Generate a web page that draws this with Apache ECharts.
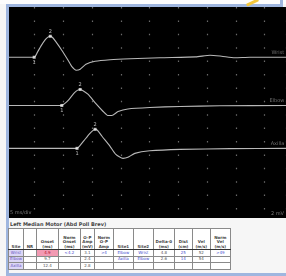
<!DOCTYPE html>
<html><head><meta charset="utf-8">
<script src="https://cdn.jsdelivr.net/npm/echarts@6/dist/echarts.min.js"></script>
<style>
html,body{margin:0;padding:0;width:286px;height:276px;overflow:hidden;background:#f6f6f6;font-family:"DejaVu Sans",Arial,sans-serif;}
#top{position:absolute;left:0;top:0;width:286px;height:4px;background:#fdfdfd;}
#chart{position:absolute;left:6px;top:7px;width:280px;height:211px;background:#000;}
.b{position:absolute;background:#9fb6df;}
#yel{position:absolute;left:246px;top:1px;width:13px;height:3px;background:#f3c73c;transform:rotate(-25deg);border-radius:1px;}
#title{position:absolute;left:10px;top:221px;font-size:5px;line-height:6px;color:#444;font-weight:bold;white-space:nowrap;}
#tbl{position:absolute;left:8px;top:228px;border-collapse:collapse;table-layout:fixed;font-size:4px;line-height:4.5px;background:#fff;}
#tbl td,#tbl th{border:1px solid #8a8a8a;padding:0 1px;overflow:hidden;white-space:nowrap;text-align:center;}
#tbl th{height:20px;vertical-align:bottom;font-weight:bold;color:#444;border-bottom:1.5px solid #333;}
#tbl td{height:5.5px;color:#555;}
</style></head>
<body>
<div id="top"></div>
<div id="chart"></div>
<div class="b" style="left:6px;top:4px;width:277px;height:3px;"></div>
<div class="b" style="left:280px;top:0px;width:3px;height:6px;"></div>
<div class="b" style="left:6px;top:4px;width:3px;height:272px;"></div>
<div class="b" style="left:6px;top:273px;width:280px;height:3px;"></div>
<div id="yel"></div>
<div id="title">Left Median Motor (Abd Poll Brev)</div>
<table id="tbl"></table>
<script>
// ---- waveform data (time in ms, amplitude in mV) ----
const traceNames = ["Wrist", "Elbow", "Axilla"];
const displayOffsets = [24, 16.8, 10.4];
const t1 = [0, 4.9, 5.5, 6.1, 6.8, 7.3, 7.7, 8.1, 8.6, 9.7, 10.8, 11.5, 12.2, 12.9, 13.9, 15.5, 18.1, 21.6, 26.8, 33.0, 35.5, 37.5, 39.8, 42.4, 48.7];
const a1 = [0, 0, 0.8, 1.7, 2.6, 3.0, 3.13, 2.95, 2.4, 1.05, -0.45, -1.45, -1.94, -1.8, -1.05, -0.6, -0.37, -0.22, -0.07, 0.05, 0.3, 0.15, -0.07, 0, 0];
const t2 = [0, 9.7, 10.3, 10.9, 11.8, 12.4, 12.9, 13.4, 14.3, 15.6, 16.9, 17.7, 18.4, 19.5, 21.2, 25, 30.3, 37.2, 48.7];
const a2 = [0, 0, 0.35, 0.85, 1.8, 2.25, 2.39, 2.2, 1.64, 0.3, -0.9, -1.5, -1.5, -0.9, -0.52, -0.3, -0.15, -0.05, 0];
const t3 = [0, 12.35, 12.9, 13.6, 14.6, 15.1, 15.5, 15.9, 16.7, 18.1, 19.1, 20.35, 21.2, 22.4, 25, 30.3, 39, 48.7];
const a3 = [0, 0, 0.45, 1.2, 2.24, 2.65, 2.84, 2.7, 1.8, 0.3, -0.9, -1.5, -1.34, -0.75, -0.37, -0.15, -0.05, 0];
const onsetIndex = [1, 1, 1];
const peakIndex = [6, 6, 6];
const labelTime = 48.4;

// ---- table data ----
const headers = ["Site", "NR", "Onset<br>(ms)", "Norm<br>Onset<br>(ms)", "O-P<br>Amp<br>(mV)", "Norm<br>O-P<br>Amp", "Site1", "Site2", "Delta-0<br>(ms)", "Dist<br>(cm)", "Vel<br>(m/s)", "Norm<br>Vel<br>(m/s)"];
const colSites = ["Wrist", "Elbow", "Axilla"];
const colNR = ["", "", ""];
const colOnset = ["4.9", "9.7", "12.4"];
const colNormOnset = ["<4.2", "", ""];
const colAmp = ["3.1", "2.4", "2.8"];
const colNormAmp = [">4", "", ""];
const colSite1 = ["Elbow", "Axilla", ""];
const colSite2 = ["Wrist", "Elbow", ""];
const colDelta = ["4.8", "2.6", ""];
const colDist = ["25", "14", ""];
const colVel = ["52", "54", ""];
const colNormVel = [">49", "", ""];

const colWidths = [14, 13, 22, 22, 13, 19, 20, 20, 21, 18, 18, 20];

// build table
(function () {
  const tbl = document.getElementById('tbl');
  let html = '<colgroup>' + colWidths.map(w => '<col style="width:' + w + 'px">').join('') + '</colgroup>';
  html += '<tr>' + headers.map(h => '<th>' + h + '</th>').join('') + '</tr>';
  const cols = [colSites, colNR, colOnset, colNormOnset, colAmp, colNormAmp, colSite1, colSite2, colDelta, colDist, colVel, colNormVel];
  for (let r = 0; r < colSites.length; r++) {
    html += '<tr>';
    cols.forEach((c, ci) => {
      let st = '';
      if (ci === 0) st = 'background:#dcd6f6;color:#6a55c0;';
      if (ci === 2 && r === 0) st = 'background:#f29ab3;color:#b0102a;';
      if (ci === 3 || ci === 5 || ci === 6 || ci === 7 || ci === 9 || ci === 11) st += 'color:#4a4fd0;';
      html += '<td style="' + st + '">' + c[r] + '</td>';
    });
    html += '</tr>';
  }
  tbl.innerHTML = html;
})();

const chart = echarts.init(document.getElementById('chart'), null, { renderer: 'canvas' });
const traces = [[t1, a1], [t2, a2], [t3, a3]];
const series = [];
traces.forEach(([t, a], i) => {
  series.push({
    type: 'line', name: traceNames[i], data: t.map((x, k) => [x, a[k] + displayOffsets[i]]),
    symbol: 'none', smooth: 0.2, lineStyle: { color: '#b8b8b8', width: 1.1 }, z: 3, animation: false
  });
});
const markerData = [];
traces.forEach(([t, a], i) => {
  markerData.push({ value: [t[onsetIndex[i]], a[onsetIndex[i]] + displayOffsets[i]], label: { position: 'bottom', formatter: '1' } });
  markerData.push({ value: [t[peakIndex[i]], a[peakIndex[i]] + displayOffsets[i]], label: { position: 'top', formatter: '2' } });
});
series.push({
  type: 'scatter', data: markerData, symbol: 'rect', symbolSize: 3,
  itemStyle: { color: '#f0f0f0' }, z: 5, animation: false,
  label: { show: true, color: '#e0e0e0', fontSize: 5, distance: 1, fontFamily: 'DejaVu Sans' }
});
series.push({
  type: 'scatter', symbolSize: 0, animation: false,
  data: traceNames.map((n, i) => ({ value: [labelTime, displayOffsets[i]], name: n })),
  label: { show: true, position: 'top', align: 'right', distance: 2, formatter: '{b}', color: '#8a8a8a', fontSize: 5, fontFamily: 'DejaVu Sans' }
});

chart.setOption({
  backgroundColor: '#000',
  animation: false,
  grid: { left: 0, right: 0, top: 0, bottom: 0 },
  xAxis: {
    type: 'value', min: 0, max: 48.7, interval: 5,
    axisLine: { show: false }, axisTick: { show: false }, axisLabel: { show: false },
    splitLine: { show: true, lineStyle: { color: '#6a6a6a', width: 1.2, type: [1.5, 11.9] } }
  },
  yAxis: {
    type: 'value', min: 0, max: 31.5,
    axisLine: { show: false }, axisTick: { show: false }, axisLabel: { show: false },
    splitLine: { show: false }
  },
  graphic: [
    { type: 'text', left: 4, top: 203, style: { text: '5 ms/div', fill: '#7a7a7a', fontSize: 5, fontFamily: 'DejaVu Sans' } },
    { type: 'text', right: 2, top: 204, style: { text: '2 mV', fill: '#7a7a7a', fontSize: 5, fontFamily: 'DejaVu Sans' } }
  ],
  series: series
});
</script>
</body></html>
